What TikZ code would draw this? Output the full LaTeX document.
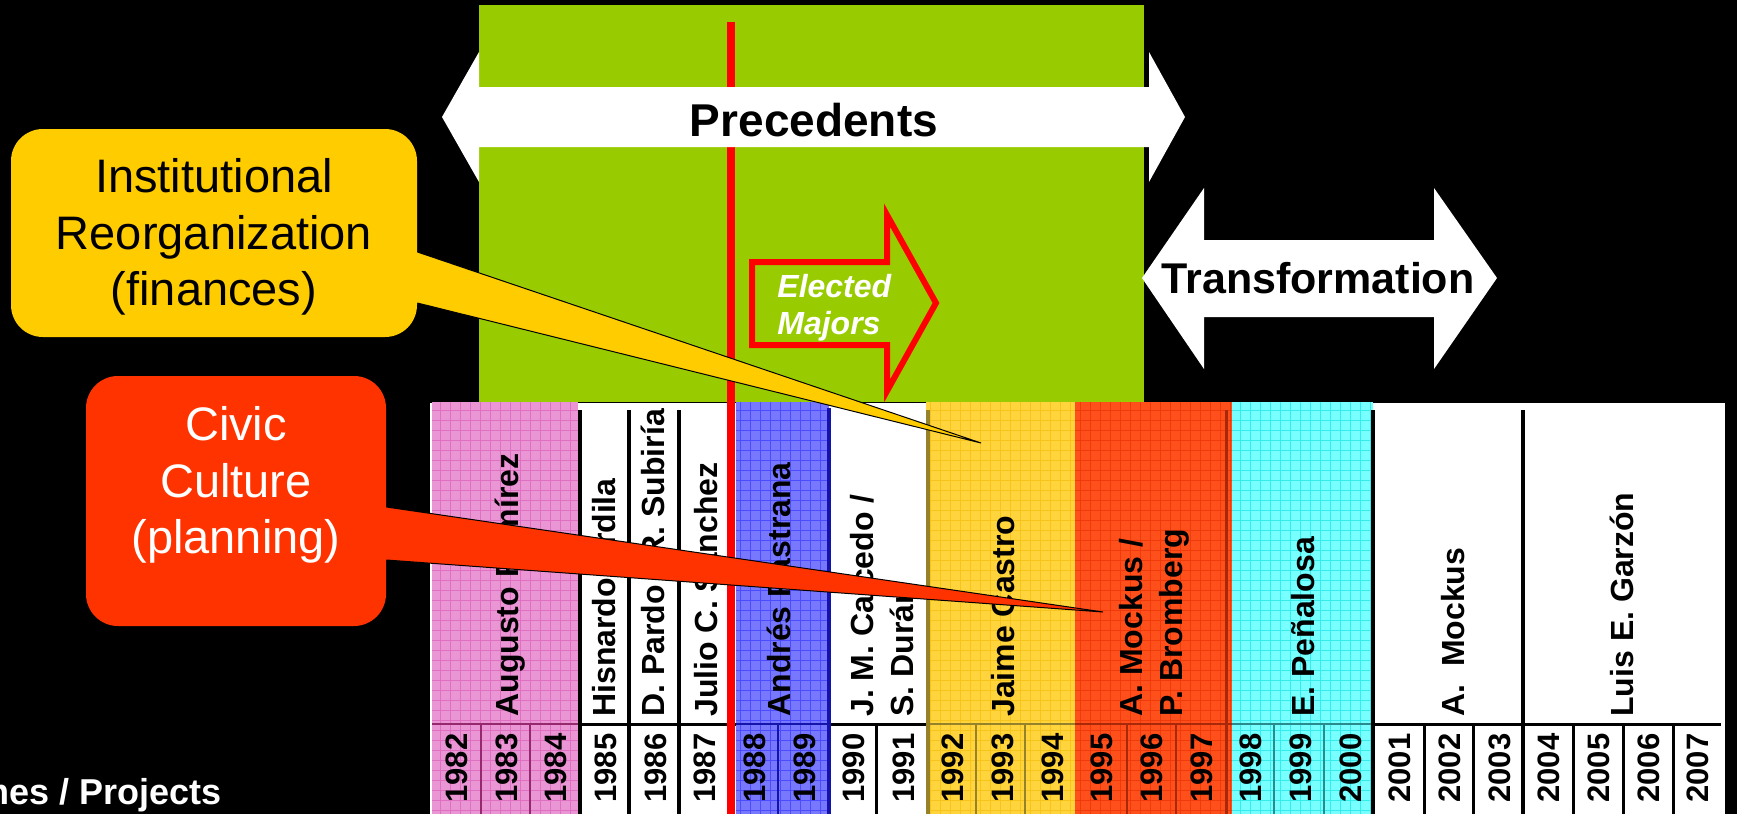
\documentclass[tikz,border=0pt]{standalone}
\usepackage{fontspec}
\setmainfont{Liberation Sans}
\usetikzlibrary{positioning,calc}
\definecolor{limegreen}{RGB}{153,204,0}
\definecolor{callyellow}{RGB}{255,204,0}
\definecolor{callred}{RGB}{255,51,0}
\definecolor{bandpink}{RGB}{234,150,212}
\definecolor{gridpink}{RGB}{214,80,176}
\definecolor{linepink}{RGB}{150,40,110}
\definecolor{bandblue}{RGB}{120,120,255}
\definecolor{gridblue}{RGB}{40,40,255}
\definecolor{lineblue}{RGB}{20,20,170}
\definecolor{bandyellow}{RGB}{255,212,60}
\definecolor{gridyellow}{RGB}{240,184,0}
\definecolor{lineyellow}{RGB}{150,130,40}
\definecolor{bandred}{RGB}{255,80,28}
\definecolor{gridred}{RGB}{226,40,0}
\definecolor{linered}{RGB}{170,40,10}
\definecolor{bandcyan}{RGB}{120,255,255}
\definecolor{gridcyan}{RGB}{0,220,220}
\definecolor{linecyan}{RGB}{40,140,140}
\begin{document}
\begin{tikzpicture}[x=0.5pt,y=-0.5pt,
  year/.style={rotate=90,anchor=west,inner sep=0pt,font=\fontsize{15.5}{18}\selectfont\bfseries},
  mayor/.style={rotate=90,anchor=west,inner sep=0pt,align=left,font=\fontsize{16}{20}\selectfont\bfseries},
  callbox/.style={rounded corners=16pt,inner sep=0pt},
  calltext/.style={align=center,inner sep=0pt,font=\fontsize{23.5}{28.25}\selectfont}]
\useasboundingbox (0,0) rectangle (1737,814);
\clip (0,0) rectangle (1737,814);
\fill[black] (0,0) rectangle (1737,814);
\fill[limegreen] (479,5) rectangle (1144,402);

\fill[white] (430,403) rectangle (1725,814);
\foreach \xa/\xb/\col in {432/578/pink,736/829/blue,926/1075/yellow,1075/1232/red,1232/1373/cyan}{
  \fill[fill=band\col] (\xa,402) rectangle (\xb,814);
  \draw[draw=grid\col,line width=0.25pt,opacity=0.55,step=5pt] (\xa,814) grid (\xb,402);
  \draw[draw=line\col,line width=1pt] (\xa,724) -- (\xb,724);
}
\foreach \xa/\xb in {578/736,829/926,1373/1721}
  \draw[line width=1.5pt] (\xa,724) -- (\xb,724);
\foreach \x/\col in {481/pink,530/pink,778/blue,975.5/yellow,1025/yellow,1127/red,1175.5/red,1274/cyan,1324/cyan}
  \draw[draw=line\col,line width=1pt] (\x,724) -- (\x,814);
\foreach \x in {876.5,1424,1473,1573,1623,1673}
  \draw[line width=1.5pt] (\x,724) -- (\x,814);
\foreach \x in {579.5,628.5,679,1373,1523}
  \draw[line width=2pt] (\x,410) -- (\x,814);
\draw[lineblue,line width=2pt] (829,408) -- (829,814);
\draw[lineyellow,line width=2pt] (928,410) -- (928,814);
\draw[linered,line width=1.5pt] (1226.5,410) -- (1226.5,814);

\draw[red,line width=4pt] (731,22) -- (731,814);

\fill[white] (442,117) -- (479,52) -- (479,87) -- (1149,87) -- (1149,52) -- (1185,117)
  -- (1149,182) -- (1149,147) -- (479,147) -- (479,182) -- cycle;
\fill[white] (1142,278) -- (1204,188) -- (1204,240) -- (1434,240) -- (1434,188) -- (1497,278)
  -- (1434,369) -- (1434,317) -- (1204,317) -- (1204,369) -- cycle;
\draw[red,line width=3pt,fill=limegreen] (752,262) -- (887,262) -- (887,215) -- (936,303)
  -- (887,391) -- (887,345) -- (752,345) -- cycle;

\node[font=\fontsize{23}{28}\selectfont\bfseries] (prec) at (814,120) {Precedents};
\node[font=\fontsize{21.5}{26}\selectfont\bfseries] (trans) at (1318,278) {Transformation};
\node[anchor=west,align=left,inner sep=0pt,text=white,font=\fontsize{16}{18.5}\selectfont\bfseries\itshape] (elected) at (777,308) {Elected\\Majors};

\foreach \y [count=\k from 0] in {1982,...,2007}
  \node[year] (y\y) at (432+49.65*\k+24.8,803) {\y};

\node[mayor] (ramirez) at (510,717) {Augusto Ramírez};
\node[mayor] (ardila) at (604,717) {Hisnardo Ardila};
\node[mayor] (pardo) at (653,717) {D. Pardo / R. Subiría};
\node[mayor] (sanchez) at (706,717) {Julio C. Sánchez};
\node[mayor] (pastrana) at (779,717) {Andrés Pastrana};
\node[mayor] (caicedo) at (882,717) {J. M. Caicedo /\\S. Durán};
\node[mayor] (castro) at (1003,717) {Jaime Castro};
\node[mayor] (mockusa) at (1154,717) {A. Mockus /\\P. Bromberg};
\node[mayor] (penalosa) at (1303,717) {E. Peñalosa};
\node[mayor] (mockusb) at (1453,717) {A.\ \ Mockus};
\node[mayor] (garzon) at (1622,717) {Luis E. Garzón};

\node[callbox,fill=callyellow,minimum width=203pt,minimum height=104pt] (inst) at (214,233) {};
\node[calltext,yshift=-2pt] (insttext) at (inst.center) {Institutional\\Reorganization\\(finances)};
\coordinate (insttip) at (981,443);
\fill[callyellow] ($(inst.east)+(-12,19)$) -- ($(inst.east)+(0,19)$) -- (insttip)
  -- ($(inst.east)+(0,70)$) -- ($(inst.east)+(-12,70)$) -- cycle;
\draw[line width=0.5pt] ($(inst.east)+(0,19)$) -- (insttip) -- ($(inst.east)+(0,70)$);

\node[callbox,fill=callred,minimum width=150pt,minimum height=125pt] (civic) at (236,501) {};
\node[calltext,text=white,yshift=8pt] (civictext) at (civic.center) {Civic\\Culture\\(planning)};
\coordinate (civictip) at (1103,612);
\fill[callred] ($(civic.east)+(-12,6)$) -- ($(civic.east)+(0,6)$) -- (civictip)
  -- ($(civic.east)+(0,59)$) -- ($(civic.east)+(-12,59)$) -- cycle;
\draw[line width=0.5pt] ($(civic.east)+(0,6)$) -- (civictip) -- ($(civic.east)+(0,59)$);

\node[anchor=base east,inner sep=0pt,text=white,font=\fontsize{18}{22}\selectfont\bfseries] (projects) at (222,804) {Programmes / Projects};
\end{tikzpicture}
\end{document}
